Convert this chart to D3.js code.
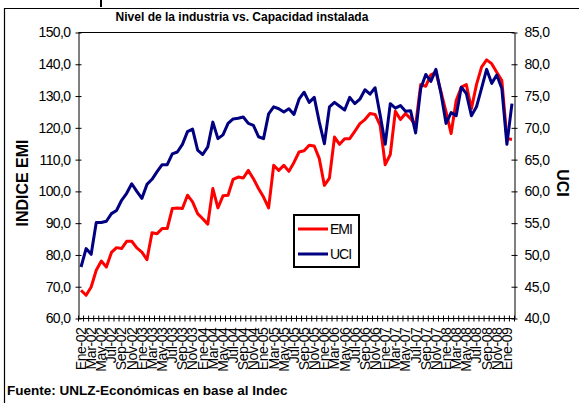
<!DOCTYPE html><html>
<head>
<meta charset="utf-8">
<style>
* { font-family: "Liberation Sans", Arial, sans-serif; }
body { margin: 0; padding: 0; background-color: #ffffff; }
svg { display: block; }
.serie { fill: none; stroke-width: 3px; stroke-linejoin: round; }
.axis path, .axis line { stroke: black; stroke-width: 1px; }
</style>
</head>
<body>
<svg id="chart" width="579" height="403"></svg>
<script src="https://cdn.jsdelivr.net/npm/d3@7"></script>
<script>
var meses = [
 "Ene-02","Feb-02","Mar-02","Abr-02","May-02","Jun-02","Jul-02","Ago-02","Sep-02","Oct-02","Nov-02","Dic-02",
 "Ene-03","Feb-03","Mar-03","Abr-03","May-03","Jun-03","Jul-03","Ago-03","Sep-03","Oct-03","Nov-03","Dic-03",
 "Ene-04","Feb-04","Mar-04","Abr-04","May-04","Jun-04","Jul-04","Ago-04","Sep-04","Oct-04","Nov-04","Dic-04",
 "Ene-05","Feb-05","Mar-05","Abr-05","May-05","Jun-05","Jul-05","Ago-05","Sep-05","Oct-05","Nov-05","Dic-05",
 "Ene-06","Feb-06","Mar-06","Abr-06","May-06","Jun-06","Jul-06","Ago-06","Sep-06","Oct-06","Nov-06","Dic-06",
 "Ene-07","Feb-07","Mar-07","Abr-07","May-07","Jun-07","Jul-07","Ago-07","Sep-07","Oct-07","Nov-07","Dic-07",
 "Ene-08","Feb-08","Mar-08","Abr-08","May-08","Jun-08","Jul-08","Ago-08","Sep-08","Oct-08","Nov-08","Dic-08",
 "Ene-09","Feb-09"
];

var emi = [
 68.9, 67.3, 69.9, 75.2, 78.1, 76.2, 80.8, 82.3, 82.0, 84.3, 84.3, 82.2,
 80.9, 78.5, 87.0, 86.7, 88.3, 88.3, 94.6, 94.8, 94.6, 98.8, 96.7, 93.0,
 91.4, 89.7, 100.9, 94.8, 98.6, 98.8, 103.8, 104.5, 104.2, 106.6, 104.0, 100.9,
 98.2, 94.8, 108.2, 106.6, 108.2, 106.3, 109.1, 112.4, 112.8, 114.5, 114.3, 110.3,
 101.9, 104.2, 117.1, 114.8, 116.6, 116.6, 118.9, 121.3, 122.6, 124.5, 124.2, 120.8,
 108.4, 111.6, 125.2, 122.6, 124.5, 122.9, 120.8, 133.6, 133.1, 136.7, 137.5, 131.3,
 125.0, 118.2, 128.6, 132.8, 133.6, 126.0, 133.6, 139.1, 141.4, 140.2, 137.5, 134.9,
 116.6, 116.3
];

var uci = [
 48.1, 51.0, 50.1, 55.1, 55.1, 55.3, 56.5, 57.0, 58.6, 59.7, 61.2, 60.0,
 58.9, 61.1, 61.9, 63.1, 64.2, 64.2, 65.9, 66.2, 67.4, 69.4, 69.8, 66.5,
 65.8, 67.0, 70.9, 68.3, 68.9, 70.7, 71.4, 71.5, 71.7, 70.7, 70.4, 68.6,
 68.3, 72.2, 73.3, 73.0, 72.5, 73.0, 72.1, 74.5, 75.6, 74.0, 74.8, 70.9,
 67.5, 73.3, 74.0, 73.4, 72.8, 74.8, 73.8, 74.5, 76.0, 75.3, 76.3, 72.0,
 67.4, 73.8, 73.1, 73.5, 72.6, 72.7, 69.2, 76.2, 78.4, 77.3, 79.2, 75.4,
 70.7, 72.4, 71.9, 76.4, 75.4, 71.9, 73.3, 76.2, 79.2, 77.0, 78.3, 76.2,
 67.4, 73.8
];

var ticksEmi = [60, 70, 80, 90, 100, 110, 120, 130, 140, 150];
var ticksUci = [40, 45, 50, 55, 60, 65, 70, 75, 80, 85];

var svg = d3.select("#chart");
var pLeft = 78.5, pRight = 514.5, pTop = 32.5, pBottom = 318.5;
var fmt = d => d3.format(".1f")(d).replace(".", ",");

var x = d3.scaleBand().domain(meses).range([pLeft, pRight]).padding(0);
var yL = d3.scaleLinear().domain([60, 150]).range([pBottom, pTop]);
var yR = d3.scaleLinear().domain([40, 85]).range([pBottom, pTop]);

// outer frame (chart cut from a bigger sheet)
svg.append("path").attr("d", "M4.5,403 V8.5 H579").attr("fill", "none").attr("stroke", "black").attr("stroke-width", 1.2);
svg.append("line").attr("x1", 101).attr("x2", 101).attr("y1", 0).attr("y2", 7).attr("stroke", "black").attr("stroke-width", 2);

svg.append("text").attr("x", 242).attr("y", 21).attr("text-anchor", "middle")
  .style("font-size", "12px").style("font-weight", "bold")
  .text("Nivel de la industria vs. Capacidad instalada");

// plot area top line
svg.append("line").attr("x1", pLeft).attr("x2", pRight).attr("y1", pTop).attr("y2", pTop).attr("stroke", "black");

var gL = svg.append("g").attr("class", "axis").attr("transform", "translate(" + pLeft + ",0)")
  .call(d3.axisLeft(yL).tickValues(ticksEmi).tickFormat(fmt).tickSizeOuter(0));
gL.selectAll(".tick line").attr("x1", 3).attr("x2", -3);
gL.selectAll(".tick text").attr("x", -8).style("font-size", "14px").style("letter-spacing", "-0.6px").attr("fill", "black");

var gR = svg.append("g").attr("class", "axis").attr("transform", "translate(" + pRight + ",0)")
  .call(d3.axisRight(yR).tickValues(ticksUci).tickFormat(fmt).tickSizeOuter(0));
gR.selectAll(".tick line").attr("x1", -3).attr("x2", 3);
gR.selectAll(".tick text").attr("x", 10).style("font-size", "14px").style("letter-spacing", "-0.6px").attr("fill", "black");

// x axis: ticks between months, a label every two months
var gX = svg.append("g").attr("class", "axis");
gX.append("line").attr("x1", pLeft).attr("x2", pRight).attr("y1", pBottom).attr("y2", pBottom);
var bordes = meses.map(m => x(m)).concat([x.range()[1]]);
gX.selectAll(".xt").data(bordes).enter().append("line").attr("class", "xt")
  .attr("x1", d => d).attr("x2", d => d).attr("y1", pBottom - 3).attr("y2", pBottom + 3);
gX.selectAll(".xl").data(meses.filter((m, i) => i % 2 == 0)).enter().append("text").attr("class", "xl")
  .attr("transform", d => "translate(" + (x(d) + x.bandwidth() / 2) + "," + (pBottom + 9) + ") rotate(-90)")
  .attr("dy", "0.35em").attr("text-anchor", "end")
  .style("font-size", "14px").style("letter-spacing", "-0.4px")
  .text(d => d);

// axis titles
svg.append("text").attr("transform", "translate(28,183) rotate(-90)").attr("text-anchor", "middle")
  .style("font-size", "16px").style("font-weight", "bold").text("INDICE EMI");
svg.append("text").attr("transform", "translate(557,183) rotate(90)").attr("text-anchor", "middle")
  .style("font-size", "16px").style("font-weight", "bold").text("UCI");

// lines
var cx = d => x(d) + x.bandwidth() / 2;
var lineaEmi = d3.line().x((d, i) => cx(meses[i])).y(d => yL(d));
var lineaUci = d3.line().x((d, i) => cx(meses[i])).y(d => yR(d));
svg.append("path").datum(emi).attr("class", "serie").attr("stroke", "#ff0000").attr("d", lineaEmi);
svg.append("path").datum(uci).attr("class", "serie").attr("stroke", "#000080").attr("d", lineaUci);

// legend
var leg = svg.append("g").attr("transform", "translate(294,215)");
leg.append("rect").attr("width", 65).attr("height", 52).attr("fill", "white").attr("stroke", "black").attr("stroke-width", 2);
var items = [{n: "EMI", c: "#ff0000"}, {n: "UCI", c: "#000080"}];
items.forEach(function (it, k) {
  var yy = 14 + k * 25;
  leg.append("line").attr("x1", 4).attr("x2", 34).attr("y1", yy).attr("y2", yy).attr("stroke", it.c).attr("stroke-width", 3);
  leg.append("text").attr("x", 36).attr("y", yy).attr("dy", "0.36em")
    .style("font-size", "14px").style("letter-spacing", "-1px").text(it.n);
});

svg.append("text").attr("x", 7).attr("y", 395).style("font-size", "13.5px").style("font-weight", "bold")
  .text("Fuente: UNLZ-Económicas en base al Indec");
</script>
</body>
</html>
